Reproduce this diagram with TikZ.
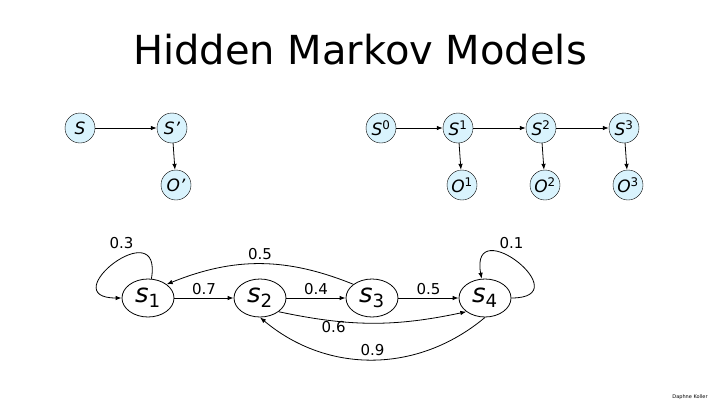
\documentclass[tikz,border=0pt]{standalone}
\usepackage{fontspec}
\setmainfont{DejaVu Sans}
\usetikzlibrary{arrows.meta,shapes.geometric}
\begin{document}
\begin{tikzpicture}[
        x=1pt, y=-1pt,
        var/.style={circle, draw, fill=cyan!15, minimum size=30pt, inner sep=0pt, font=\fontsize{17}{18}\selectfont},
        state/.style={ellipse, draw, thick, minimum width=52pt, minimum height=38pt, inner sep=0pt, font=\fontsize{26}{28}\selectfont},
        arc/.style={-{Latex[length=6pt]}, thick},
        prob/.style={font=\fontsize{15}{16}\selectfont}
    ]
        \useasboundingbox (0,0) rectangle (720,405);
        \node[font=\fontsize{40}{42}\selectfont] (title) at (360,50) {Hidden Markov Models};

        % Single slice
        \node[var] (s) at (80,128) {\textit{S}};
        \node[var] (sp) at (172,128) {\textit{S'}};
        \node[var] (op) at (176,185) {\textit{O'}};
        \draw[arc] (s) -- (sp);
        \draw[arc] (sp) -- (op);

        % Unrolled chain
        \node[var] (s0) at (381,128) {\textit{S}\textsuperscript{0}};
        \node[var] (s1) at (458,128) {\textit{S}\textsuperscript{1}};
        \node[var] (s2) at (541,128) {\textit{S}\textsuperscript{2}};
        \node[var] (s3) at (624,128) {\textit{S}\textsuperscript{3}};
        \node[var] (o1) at (462,185) {\textit{O}\textsuperscript{1}};
        \node[var] (o2) at (545,185) {\textit{O}\textsuperscript{2}};
        \node[var] (o3) at (628,185) {\textit{O}\textsuperscript{3}};
        \draw[arc] (s0) -- (s1);
        \draw[arc] (s1) -- (s2);
        \draw[arc] (s2) -- (s3);
        \draw[arc] (s1) -- (o1);
        \draw[arc] (s2) -- (o2);
        \draw[arc] (s3) -- (o3);

        % State transition diagram
        \node[state] (q1) at (148,298) {\textit{s}\textsubscript{1}};
        \node[state] (q2) at (260,298) {\textit{s}\textsubscript{2}};
        \node[state] (q3) at (372,298) {\textit{s}\textsubscript{3}};
        \node[state] (q4) at (485,298) {\textit{s}\textsubscript{4}};
        \draw[arc] (q1) to[out=80, in=180, looseness=5] node[prob, above left, pos=0.3] {0.3} (q1);
        \draw[arc] (q4) to[out=0, in=100, looseness=5] node[prob, above right, pos=0.7] {0.1} (q4);
        \draw[arc] (q1) -- node[prob, above] {0.7} (q2);
        \draw[arc] (q2) -- node[prob, above] {0.4} (q3);
        \draw[arc] (q3) -- node[prob, above] {0.5} (q4);
        \draw[arc] (q3.north west) to[bend right=22] node[prob, above] {0.5} (q1.north east);
        \draw[arc] (q2.south east) to[bend right=12] node[prob, below, inner sep=0.5pt, pos=0.28] {0.6} (q4.south west);
        \draw[arc] (q4.south) to[bend left=40] node[prob, above] {0.9} (q2.south);

        \node[font=\tiny] (credit) at (690,397) {Daphne Koller};
    \end{tikzpicture}
\end{document}
